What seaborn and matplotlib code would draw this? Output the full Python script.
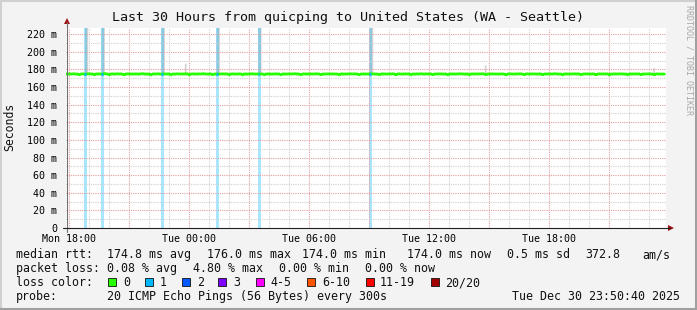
import numpy as np
import pandas as pd
import matplotlib
matplotlib.use("Agg")
import matplotlib.pyplot as plt
import seaborn as sns
from matplotlib.patches import Rectangle, Polygon
from matplotlib.lines import Line2D

sns.set_theme(style="white")
plt.rcParams["font.family"] = ["DejaVu Sans Mono", "DejaVu Sans"]

# ---------------- data ----------------
START_HOUR = 17 + 50 / 60 + 40 / 3600   # Mon 17:50:40 (hours since Mon 00:00)
SPAN_HOURS = 30
STEP_MIN = 5

median_ms = [
    174.8, 174.9, 174.7, 174.8, 174.9, 175.0, 174.6, 174.8, 173.9, 174.8, 174.9, 174.8, 174.7, 174.9, 175.0, 174.8, 174.8, 173.8, 174.9, 174.8,
    174.9, 174.8, 174.7, 175.3, 174.9, 174.8, 173.9, 174.8, 174.9, 174.7, 174.8, 175.0, 174.8, 174.9, 174.6, 173.9, 174.8, 174.9, 174.8, 174.7,
    174.8, 175.0, 174.9, 174.8, 174.7, 174.9, 175.2, 174.8, 174.8, 174.9, 174.7, 173.8, 174.8, 174.9, 174.8, 175.0, 174.8, 174.7, 174.9, 174.8,
    174.8, 174.9, 174.8, 173.9, 174.8, 174.7, 174.9, 175.0, 174.8, 174.8, 174.9, 174.7, 174.8, 174.9, 173.8, 174.8, 174.9, 174.8, 174.7, 174.9,
    174.8, 174.8, 175.1, 174.9, 174.8, 174.7, 174.8, 174.9, 173.9, 174.8, 174.8, 174.9, 174.7, 174.8, 175.0, 174.8, 174.9, 174.8, 173.9, 174.8,
    174.9, 174.8, 174.7, 174.8, 174.9, 174.8, 173.8, 174.9, 174.8, 174.7, 174.8, 174.9, 175.0, 174.8, 174.8, 174.7, 174.9, 174.8, 174.8, 173.9,
    174.8, 174.9, 174.8, 174.7, 174.8, 175.0, 174.9, 174.8, 174.8, 173.8, 174.9, 174.8, 174.7, 174.8, 174.9, 174.8, 174.8, 175.1, 174.9, 174.8,
    174.7, 173.9, 174.8, 174.9, 174.8, 174.8, 174.7, 174.9, 174.8, 174.8, 175.0, 174.9, 174.8, 173.9, 174.8, 174.7, 174.8, 174.9, 174.8, 174.8,
    174.9, 174.8, 174.7, 174.8, 173.8, 174.9, 174.8, 174.8, 174.7, 174.9, 174.8, 175.0, 174.8, 174.9, 174.8, 174.7, 173.9, 174.8, 174.8, 174.9,
    174.8, 174.7, 174.8, 175.0, 174.9, 174.8, 174.8, 174.7, 173.9, 174.8, 174.9, 174.8, 174.8, 174.7, 174.9, 174.8, 175.0, 174.8, 173.8, 174.9,
    174.8, 174.8, 174.7, 174.9, 174.8, 174.8, 174.9, 173.9, 174.8, 174.7, 174.8, 174.9, 174.8, 175.1, 174.8, 174.7, 174.9, 174.8, 174.8, 174.9,
    173.9, 174.8, 174.7, 174.8, 174.9, 174.8, 174.8, 174.7, 174.9, 173.8, 174.8, 174.8, 174.9, 174.8, 174.7, 174.8, 175.0, 174.9, 174.8, 174.8,
    174.7, 174.9, 173.9, 174.8, 174.8, 174.9, 174.7, 174.8, 174.8, 174.9, 175.0, 174.8, 173.9, 174.8, 174.7, 174.9, 174.8, 174.8, 174.9, 174.7,
    174.8, 174.8, 174.9, 174.7, 173.8, 174.8, 174.9, 174.8, 174.8, 174.7, 174.9, 174.8, 175.0, 174.8, 174.8, 173.9, 174.9, 174.8, 174.7, 174.8,
    174.9, 174.8, 174.8, 174.7, 174.9, 174.8, 173.9, 174.8, 174.8, 174.9, 174.7, 174.8, 174.8, 175.1, 174.9, 174.8, 174.7, 174.8, 173.8, 174.9,
    174.8, 174.8, 174.7, 174.9, 174.8, 175.0, 174.8, 174.9, 174.8, 173.9, 174.7, 174.8, 174.9, 174.8, 174.8, 174.7, 174.9, 174.8, 173.9, 174.8,
    174.8, 174.9, 174.7, 174.8, 174.8, 174.9, 173.8, 174.8, 174.7, 174.9, 174.8, 174.8, 175.0, 174.8, 174.9, 174.7, 174.8, 173.9, 174.8, 174.8,
    174.9, 174.7, 174.8, 174.8, 174.9, 173.9, 174.8, 174.7, 174.8, 174.9, 174.8, 174.8, 174.7, 173.8, 174.9, 174.8, 174.8, 174.7, 174.8, 174.8,
]

smoke_max_ms = [
    176.2, 176.0, 176.4, 176.1, 176.0, 176.3, 176.1, 176.0, 176.2, 176.1, 176.0, 240.0, 240.0, 176.3, 176.0, 176.1, 176.2, 176.0, 176.1, 176.4,
    176.0, 240.0, 240.0, 176.2, 176.0, 176.1, 176.3, 176.0, 176.2, 176.1, 176.0, 176.2, 176.1, 176.0, 176.3, 176.1, 176.0, 176.2, 176.1, 176.0,
    176.3, 176.0, 176.1, 176.2, 176.0, 176.1, 176.4, 176.0, 176.2, 176.1, 176.0, 176.2, 176.1, 176.0, 176.3, 176.1, 176.0, 240.0, 240.0, 176.1,
    176.0, 176.2, 176.1, 176.0, 176.3, 176.1, 176.0, 176.2, 176.1, 176.0, 176.2, 187.0, 176.1, 176.0, 176.3, 176.1, 176.0, 176.2, 176.1, 176.0,
    176.2, 176.0, 176.1, 176.3, 176.0, 176.1, 176.2, 176.0, 176.1, 176.2, 240.0, 240.0, 176.1, 176.0, 176.3, 176.1, 176.0, 176.2, 176.1, 176.0,
    176.1, 176.0, 176.2, 176.1, 176.0, 176.3, 176.1, 176.0, 176.2, 176.1, 176.0, 176.2, 176.1, 176.0, 176.2, 240.0, 240.0, 176.0, 176.1, 176.3,
    176.0, 176.1, 176.2, 176.0, 176.1, 176.2, 176.0, 176.3, 176.1, 176.0, 176.2, 176.1, 176.0, 176.2, 176.1, 176.0, 176.3, 176.1, 176.0, 176.2,
    176.1, 176.0, 176.2, 176.1, 176.0, 176.3, 176.1, 176.0, 176.2, 176.1, 176.0, 176.2, 176.1, 176.0, 176.3, 176.1, 176.0, 176.2, 176.1, 176.0,
    176.2, 176.0, 176.1, 176.3, 176.0, 176.1, 176.2, 176.0, 176.1, 176.2, 176.0, 176.1, 176.3, 176.0, 176.1, 176.2, 176.0, 176.1, 176.2, 176.0,
    176.1, 176.0, 240.0, 240.0, 176.0, 176.3, 176.1, 176.0, 176.2, 176.1, 176.0, 176.2, 176.1, 176.0, 176.3, 176.1, 176.0, 176.2, 176.1, 176.0,
    176.2, 176.0, 176.1, 176.3, 176.0, 176.1, 176.2, 176.0, 176.1, 176.2, 176.0, 176.1, 176.3, 176.0, 176.1, 176.2, 176.0, 176.1, 176.2, 176.0,
    176.1, 176.0, 176.2, 176.1, 176.0, 176.3, 176.1, 176.0, 176.2, 176.1, 176.0, 176.2, 176.1, 176.0, 176.3, 176.1, 176.0, 176.2, 176.1, 176.0,
    176.2, 176.0, 176.1, 176.3, 176.0, 176.1, 176.2, 176.0, 176.1, 176.2, 176.0, 185.0, 176.3, 176.0, 176.1, 176.2, 176.0, 176.1, 176.2, 176.0,
    176.1, 176.0, 176.2, 176.1, 176.0, 176.3, 176.1, 176.0, 176.2, 176.1, 176.0, 176.2, 176.1, 176.0, 176.3, 176.1, 176.0, 176.2, 176.1, 176.0,
    176.2, 176.0, 176.1, 176.3, 176.0, 176.1, 176.2, 176.0, 176.1, 176.2, 176.0, 176.1, 176.3, 176.0, 176.1, 176.2, 176.0, 176.1, 176.2, 176.0,
    176.1, 176.0, 176.2, 176.1, 176.0, 176.3, 176.1, 176.0, 176.2, 176.1, 176.0, 176.2, 176.1, 176.0, 176.3, 176.1, 176.0, 176.2, 176.1, 176.0,
    176.2, 176.0, 176.1, 176.3, 176.0, 176.1, 176.2, 176.0, 176.1, 176.2, 176.0, 176.1, 176.3, 176.0, 176.1, 176.2, 176.0, 176.1, 176.2, 176.0,
    176.1, 176.0, 176.2, 176.1, 176.0, 176.3, 176.1, 176.0, 176.2, 176.1, 176.0, 176.2, 182.0, 176.0, 176.3, 176.1, 176.0, 176.2, 176.1, 176.0,
]
SMOKE_MIN_MS = 174.0

loss_sample_idx = [11, 21, 57, 90, 115, 182]   # samples with 1/20 lost

y_tick_values = [0, 20, 40, 60, 80, 100, 120, 140, 160, 180, 200, 220]
y_tick_labels = ["0", "20 m", "40 m", "60 m", "80 m", "100 m", "120 m",
                 "140 m", "160 m", "180 m", "200 m", "220 m"]
x_tick_hours = [18, 24, 30, 36, 42]
x_tick_labels = ["Mon 18:00", "Tue 00:00", "Tue 06:00", "Tue 12:00", "Tue 18:00"]

loss_colors = ["#26ff00", "#00b8ff", "#0059ff", "#7e00ff", "#ff00ff", "#ff5500", "#ff0000", "#a10000"]
loss_labels = ["0", "1", "2", "3", "4-5", "6-10", "11-19", "20/20"]

title = "Last 30 Hours from quicping to United States (WA - Seattle)"

# ---------------- figure ----------------
W, H = 697, 310
fig = plt.figure(figsize=(W / 100, H / 100), dpi=100, facecolor="#f3f3f3")


def fx(x):
    return x / W


def fy(y):
    return 1 - y / H


YMAX = 227.0
ax = fig.add_axes([fx(66), fy(228), 600 / W, (228 - 28) / H])
ax.set_facecolor("white")

step_h = STEP_MIN / 60
times = START_HOUR + np.arange(len(median_ms)) * step_h
df = pd.DataFrame({"t": times, "median": median_ms, "smax": smoke_max_ms})

# smoke
ax.fill_between(df["t"], SMOKE_MIN_MS, df["smax"], step="post", color="#d2d2d2", lw=0, zorder=1)
# loss bars
lt = df["t"].iloc[loss_sample_idx]
ax.bar(lt, YMAX, width=step_h * 1.8, align="edge", color="#00b8ff", alpha=0.34, lw=0, zorder=1.5)
# median line
sns.lineplot(data=df, x="t", y="median", color="#26ff00", lw=2.0, ax=ax, zorder=3, legend=False)
for i in loss_sample_idx:
    ax.plot([times[i], times[i] + step_h], [median_ms[i], median_ms[i]], color="#00b8ff", lw=2.0,
            solid_capstyle="butt", zorder=4)

ax.set_xlim(START_HOUR, START_HOUR + SPAN_HOURS)
ax.set_ylim(0, YMAX)
ax.set_xlabel("")
ax.set_ylabel("")

# grid
ax.set_axisbelow(False)
ax.set_xticks(x_tick_hours)
ax.set_xticklabels(x_tick_labels, fontsize=7.2)
ax.set_xticks(np.arange(18, 48, 1), minor=True)
ax.set_yticks(y_tick_values)
ax.set_yticklabels(y_tick_labels, fontsize=7.2)
ax.set_yticks(np.arange(0, 227, 10), minor=True)
for xv in np.arange(18, 48, 1):
    major = (xv - 18) % 3 == 0
    ax.axvline(xv, color="#e2a0a0" if major else "#d0d0d0", lw=0.8,
               ls=(0, (1, 1)), zorder=2.5)
for yv in np.arange(10, 227, 10):
    major = yv % 20 == 0
    ax.axhline(yv, color="#e2a0a0" if major else "#d0d0d0", lw=0.8,
               ls=(0, (1, 1)), zorder=2.5)

ax.tick_params(axis="y", which="major", length=3, width=0.7, color="#d08080", pad=3.5, labelcolor="black")
ax.tick_params(axis="y", which="minor", length=2, width=0.6, color="#c8c8c8")
ax.tick_params(axis="x", which="major", length=3, width=0.7, color="#c08080", pad=1.5, labelcolor="black")
ax.tick_params(axis="x", which="minor", length=0)
for s in ax.spines.values():
    s.set_visible(False)

# axis lines + arrows
fig.add_artist(Line2D([fx(67), fx(67)], [fy(232), fy(22)], color="#707070", lw=0.8))
fig.add_artist(Line2D([fx(63), fx(670)], [fy(228), fy(228)], color="#202020", lw=0.8))
fig.add_artist(Polygon([(fx(64), fy(24)), (fx(70), fy(24)), (fx(67), fy(18))], closed=True,
                       color="#a01010", lw=0))
fig.add_artist(Polygon([(fx(668), fy(225)), (fx(668), fy(231)), (fx(674), fy(228))], closed=True,
                       color="#a01010", lw=0))

# titles
fig.text(fx(348), fy(18), title, ha="center", va="center", fontsize=9.6, color="#111111")
fig.text(fx(10), fy(127), "Seconds", rotation=90, ha="center", va="center", fontsize=8.3, color="#111111")
fig.text(fx(689), fy(60), "RRDTOOL / TOBI OETIKER", rotation=270, ha="center", va="center",
         fontsize=6.0, color="#a8a8a8")

# legend text
LF = 8.4
rows = [
    (258, [(16, "median rtt:"), (107, "174.8 ms avg"), (207, "176.0 ms max"), (302, "174.0 ms min"),
           (407, "174.0 ms now"), (507, "0.5 ms sd"), (585, "372.8"), (642, "am/s")]),
    (272, [(16, "packet loss:"), (107, "0.08 % avg"), (193, "4.80 % max"), (279, "0.00 % min"),
           (365, "0.00 % now")]),
    (286, [(16, "loss color:")]),
    (300, [(16, "probe:"), (107, "20 ICMP Echo Pings (56 Bytes) every 300s")]),
]
for yb, items in rows:
    for xp, s in items:
        fig.text(fx(xp), fy(yb), s, ha="left", va="baseline", fontsize=LF, color="#111111")
fig.text(fx(680), fy(300), "Tue Dec 30 23:50:40 2025", ha="right", va="baseline", fontsize=LF, color="#111111")

box_x = [108, 145, 182, 218, 256, 307, 366, 431]
lab_x = [123, 160, 197, 233, 270, 322, 380, 445]
for c, lab, bx, lx in zip(loss_colors, loss_labels, box_x, lab_x):
    fig.add_artist(Rectangle((fx(bx), fy(286)), 8 / W, 8 / H, facecolor=c, edgecolor="#111111", lw=0.6))
    fig.text(fx(lx), fy(286), lab, ha="left", va="baseline", fontsize=LF, color="#111111")

# frame
fig.add_artist(Line2D([0, 1], [fy(0.5), fy(0.5)], color="#d0d0d0", lw=1.5))
fig.add_artist(Line2D([fx(0.5), fx(0.5)], [0, 1], color="#d0d0d0", lw=1.5))
fig.add_artist(Line2D([0, 1], [fy(309), fy(309)], color="#a0a0a0", lw=1.5))
fig.add_artist(Line2D([fx(696), fx(696)], [0, 1], color="#a0a0a0", lw=1.5))

fig.savefig("out.png", dpi=100, facecolor=fig.get_facecolor())
